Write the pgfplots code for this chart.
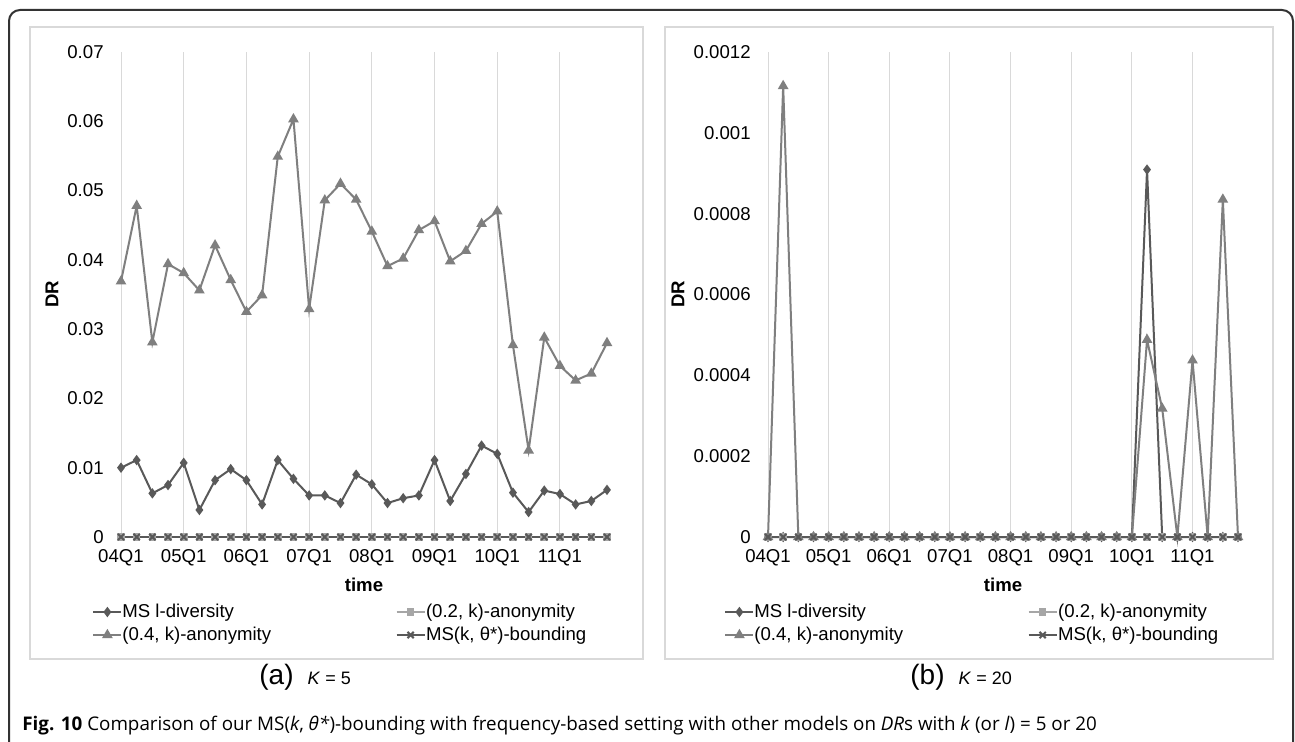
\documentclass[border=0pt]{standalone}
\usepackage{fontspec}
\setmainfont{Liberation Sans}
\newfontfamily\capfont{Open Sans}
\usepackage{pgfplots}
\pgfplotsset{compat=1.18}
\usepackage{pgfplotstable}

\definecolor{cLdiv}{HTML}{595959}
\definecolor{cA}{HTML}{A6A6A6}
\definecolor{cB}{HTML}{7F7F7F}
\definecolor{cBound}{HTML}{595959}
\definecolor{cGrid}{HTML}{D9D9D9}

\pgfplotstableread{
i ldiv anonA anonB bound
0 0.0100 0 0.0369 0
1 0.0111 0 0.0478 0
2 0.0063 0 0.0281 0
3 0.0075 0 0.0394 0
4 0.0107 0 0.0381 0
5 0.0039 0 0.0356 0
6 0.0082 0 0.0421 0
7 0.0098 0 0.0371 0
8 0.0082 0 0.0325 0
9 0.0047 0 0.0349 0
10 0.0111 0 0.0549 0
11 0.0084 0 0.0603 0
12 0.0060 0 0.0329 0
13 0.0060 0 0.0486 0
14 0.0049 0 0.0510 0
15 0.0090 0 0.0487 0
16 0.0076 0 0.0441 0
17 0.0049 0 0.0391 0
18 0.0056 0 0.0402 0
19 0.0060 0 0.0443 0
20 0.0111 0 0.0456 0
21 0.0052 0 0.0398 0
22 0.0091 0 0.0413 0
23 0.0132 0 0.0452 0
24 0.0120 0 0.0470 0
25 0.0064 0 0.0277 0
26 0.0036 0 0.0125 0
27 0.0067 0 0.0288 0
28 0.0062 0 0.0247 0
29 0.0047 0 0.0226 0
30 0.0052 0 0.0236 0
31 0.0068 0 0.0280 0
}\dataA

\pgfplotstableread{
i ldiv anonA anonB bound
0 0 0 0 0
1 0 0 0.001116 0
2 0 0 0 0
3 0 0 0 0
4 0 0 0 0
5 0 0 0 0
6 0 0 0 0
7 0 0 0 0
8 0 0 0 0
9 0 0 0 0
10 0 0 0 0
11 0 0 0 0
12 0 0 0 0
13 0 0 0 0
14 0 0 0 0
15 0 0 0 0
16 0 0 0 0
17 0 0 0 0
18 0 0 0 0
19 0 0 0 0
20 0 0 0 0
21 0 0 0 0
22 0 0 0 0
23 0 0 0 0
24 0 0 0 0
25 0.000909 0 0.000488 0
26 0 0 0.000318 0
27 0 0 0 0
28 0 0 0.000437 0
29 0 0 0 0
30 0 0 0.000835 0
31 0 0 0 0
}\dataB

\newcommand{\chartfont}{\fontsize{9.3}{11}\selectfont}

\pgfplotsset{
  panel/.style={
    scale only axis,
    enlargelimits=false,
    clip=false,
    xmin=0, xmax=31, ymin=0,
    axis line style={draw=none},
    major tick length=0pt,
    xmajorgrids=true, ymajorgrids=false,
    grid style={cGrid, line width=0.5pt},
    xtick={0,4,8,12,16,20,24,28},
    xticklabels={04Q1,05Q1,06Q1,07Q1,08Q1,09Q1,10Q1,11Q1},
    scaled y ticks=false,
    /pgf/number format/assume math mode=true,
    ticklabel style={font=\chartfont},
    xticklabel style={anchor=center, inner sep=0pt, yshift=-10.5pt},
    yticklabel style={anchor=east, inner sep=0pt, xshift=-8.5pt},
    legend columns=2,
    legend cell align=left,
    legend image code/.code={
      \draw[mark repeat=2,mark phase=2,##1] plot coordinates {(0pt,0pt)(7pt,0pt)(14pt,0pt)};
    },
    legend style={draw=none, fill=none, inner sep=0pt, anchor=north west,
      font=\chartfont, row sep=2.5pt,
      nodes={inner sep=0pt, text height=7pt, text depth=2pt},
      /tikz/every even column/.append style={column sep=62pt}},
  },
  sLdiv/.style={cLdiv, line width=1pt, mark=diamond*, mark size=1.8pt, mark options={solid, fill=cLdiv}},
  sA/.style={cA, line width=1pt, mark=square*, mark size=1.4pt, mark options={solid, fill=cA}},
  sB/.style={cB, line width=1pt, mark=triangle*, mark size=2.1pt, mark options={solid, fill=cB}},
  sBound/.style={cBound, line width=1.4pt, mark=x, mark size=2.2pt, mark options={solid, line width=1pt}},
}

\begin{document}
\begin{tikzpicture}
\useasboundingbox (0,0) rectangle (647.5pt,370.5pt);
\fill[white] (0,0) rectangle (647.5pt,370.5pt);
% outer frame
\draw[line width=1pt, black!80] (4.5pt,-2pt) -- (4.5pt,360pt) arc[start angle=180,end angle=90,radius=5.5pt] -- (641pt,365.5pt) arc[start angle=90,end angle=0,radius=5.5pt] -- (646.5pt,-2pt);
% panel boxes
\draw[cGrid, line width=0.6pt] (15pt,41pt) rectangle (321.5pt,357pt);
\draw[cGrid, line width=0.6pt] (332.5pt,41pt) rectangle (636.5pt,357pt);

\begin{axis}[panel,
  at={(60.5pt,102pt)}, anchor=south west,
  width=243pt, height=242.5pt,
  ymax=0.07,
  ytick={0,0.01,0.02,0.03,0.04,0.05,0.06,0.07},
  yticklabels={0,0.01,0.02,0.03,0.04,0.05,0.06,0.07},
  legend style={at={(axis description cs:-0.0597,-0.1353)}},
]
\addplot[sLdiv] table[x=i,y=ldiv] {\dataA};
\addlegendentry{MS l-diversity}
\addplot[sA] table[x=i,y=anonA] {\dataA};
\addlegendentry{(0.2, k)-anonymity}
\addplot[sB] table[x=i,y=anonB] {\dataA};
\addlegendentry{(0.4, k)-anonymity}
\addplot[sBound] table[x=i,y=bound] {\dataA};
\addlegendentry{MS(k, θ*)-bounding}
\end{axis}

\begin{axis}[panel,
  at={(384pt,102pt)}, anchor=south west,
  width=235pt, height=242.5pt,
  ymax=0.0012,
  ytick={0,0.0002,0.0004,0.0006,0.0008,0.001,0.0012},
  yticklabels={0,0.0002,0.0004,0.0006,0.0008,0.001,0.0012},
  legend style={at={(axis description cs:-0.0936,-0.1353)}},
]
\addplot[sLdiv] table[x=i,y=ldiv] {\dataB};
\addlegendentry{MS l-diversity}
\addplot[sA] table[x=i,y=anonA] {\dataB};
\addlegendentry{(0.2, k)-anonymity}
\addplot[sB] table[x=i,y=anonB] {\dataB};
\addlegendentry{(0.4, k)-anonymity}
\addplot[sBound] table[x=i,y=bound] {\dataB};
\addlegendentry{MS(k, θ*)-bounding}
\end{axis}

% axis titles
\node[font=\chartfont\bfseries] at (182pt,78pt) {time};
\node[font=\chartfont\bfseries] at (501.5pt,78pt) {time};
\node[font=\chartfont\bfseries, rotate=90] at (26pt,223.25pt) {DR};
\node[font=\chartfont\bfseries, rotate=90] at (339pt,223.25pt) {DR};

% sub labels
\node[anchor=west, inner sep=0pt] at (129.5pt,32pt) {{\fontsize{14}{16}\selectfont (a)}\hspace{7pt}{\fontsize{9}{10}\selectfont\textit{K} = 5}};
\node[anchor=west, inner sep=0pt] at (455pt,32pt) {{\fontsize{14}{16}\selectfont (b)}\hspace{7pt}{\fontsize{9}{10}\selectfont\textit{K} = 20}};

% caption
\node[anchor=base west, inner sep=0pt, font=\capfont\fontsize{9.4}{11}\selectfont] at (11pt,5.5pt)
  {\textbf{Fig. 10} Comparison of our MS(\textit{k}, \textit{θ*})-bounding with frequency-based setting with other models on \textit{DR}s with \textit{k} (or \textit{l}) = 5 or 20};
\end{tikzpicture}
\end{document}
